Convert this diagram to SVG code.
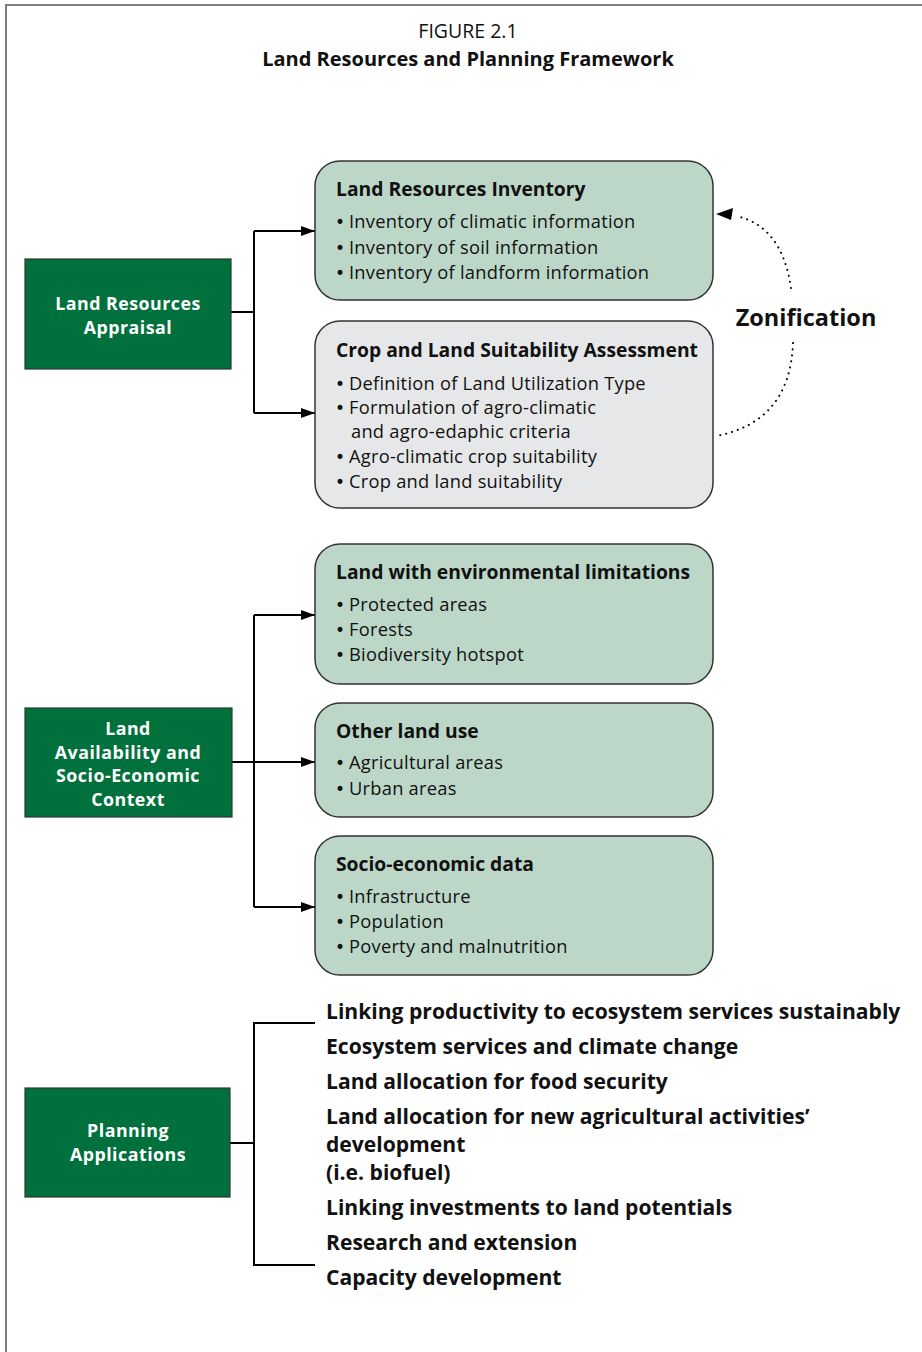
<svg xmlns="http://www.w3.org/2000/svg" width="922" height="1352" viewBox="0 0 922 1352">
<style>
.frame{fill:none;stroke:#7f7f7f;stroke-width:2}
.dk{fill:#00703c;stroke:#2b3a30;stroke-width:1.2}
.lg{fill:#bcd7c8;stroke:#333;stroke-width:1.5}
.gy{fill:#e6e7e8;stroke:#333;stroke-width:1.5}
.wt{font-family:"Open Sans","Noto Sans",sans-serif;font-weight:bold;font-size:17.8px;letter-spacing:0.5px;fill:#fff;text-anchor:middle}
.bt{font-family:"Open Sans","Noto Sans",sans-serif;font-weight:bold;font-size:19.3px;fill:#111}
.it{font-family:"Open Sans","Noto Sans",sans-serif;font-size:18.3px;letter-spacing:0.25px;fill:#111}
.bu{font-family:"DejaVu Sans",sans-serif;font-size:17px}
.pl{font-family:"Open Sans","Noto Sans",sans-serif;font-weight:bold;font-size:21.1px;fill:#111}
.ln{fill:none;stroke:#000;stroke-width:2}
.dot{fill:none;stroke:#000;stroke-width:2;stroke-dasharray:0.1 6;stroke-linecap:round}
</style>
<defs>
<marker id="ah" viewBox="0 0 14 10" refX="14" refY="5" markerWidth="14" markerHeight="10" markerUnits="userSpaceOnUse" orient="auto">
<path d="M0 0 L14 5 L0 10 Z" fill="#000"/>
</marker>
</defs>
<rect class="frame" x="6" y="5" width="930" height="1360"/>
<g id="title">
<text x="468" y="38" style="font-family:'Open Sans','Noto Sans',sans-serif;font-size:19.5px;fill:#111;text-anchor:middle">FIGURE 2.1</text>
<text x="468" y="66" style="font-family:'Open Sans','Noto Sans',sans-serif;font-weight:bold;font-size:20px;fill:#111;text-anchor:middle">Land Resources and Planning Framework</text>
</g>
<g id="connectors">
<path class="ln" d="M231 312 H254"/>
<path class="ln" d="M254 231 V413"/>
<path class="ln" d="M254 231 H315" marker-end="url(#ah)"/>
<path class="ln" d="M254 413 H315" marker-end="url(#ah)"/>
<path class="ln" d="M232 762 H315" marker-end="url(#ah)"/>
<path class="ln" d="M254 615 V907"/>
<path class="ln" d="M254 615 H315" marker-end="url(#ah)"/>
<path class="ln" d="M254 907 H315" marker-end="url(#ah)"/>
<path class="ln" d="M230 1143 H254"/>
<path class="ln" d="M254 1023 V1265"/>
<path class="ln" d="M253 1023 H315"/>
<path class="ln" d="M253 1265 H315"/>
<path class="dot" d="M791 288 Q782 226 736 216"/>
<path d="M716 214 L733 208 L731 220 Z" fill="#000"/>
<path class="dot" d="M793 343 Q790 422 716 436"/>
</g>
<g id="lra">
<rect class="dk" x="25" y="259" width="206" height="110"/>
<text class="wt"><tspan x="128" y="310">Land Resources</tspan><tspan x="128" y="334">Appraisal</tspan></text>
</g>
<g id="inventory">
<rect class="lg" x="315" y="161" width="398" height="139" rx="25"/>
<text class="bt" x="336" y="196">Land Resources Inventory</text>
<text class="it" x="335" y="228"><tspan class="bu">•</tspan><tspan x="349">Inventory of climatic information</tspan></text>
<text class="it" x="335" y="254"><tspan class="bu">•</tspan><tspan x="349">Inventory of soil information</tspan></text>
<text class="it" x="335" y="279"><tspan class="bu">•</tspan><tspan x="349">Inventory of landform information</tspan></text>
</g>
<g id="suitability">
<rect class="gy" x="315" y="321" width="398" height="187" rx="25"/>
<text class="bt" x="336" y="357">Crop and Land Suitability Assessment</text>
<text class="it" x="335" y="390"><tspan class="bu">•</tspan><tspan x="349">Definition of Land Utilization Type</tspan></text>
<text class="it" x="335" y="414"><tspan class="bu">•</tspan><tspan x="349">Formulation of agro-climatic</tspan><tspan x="351" y="438">and agro-edaphic criteria</tspan></text>
<text class="it" x="335" y="463"><tspan class="bu">•</tspan><tspan x="349">Agro-climatic crop suitability</tspan></text>
<text class="it" x="335" y="488"><tspan class="bu">•</tspan><tspan x="349">Crop and land suitability</tspan></text>
</g>
<g id="zonification">
<text x="806" y="326" style="font-family:'Open Sans','Noto Sans',sans-serif;font-weight:bold;font-size:23.5px;fill:#111;text-anchor:middle">Zonification</text>
</g>
<g id="lasec">
<rect class="dk" x="25" y="708" width="207" height="109"/>
<text class="wt"><tspan x="128" y="735">Land</tspan><tspan x="128" y="758.5">Availability and</tspan><tspan x="128" y="782">Socio-Economic</tspan><tspan x="128" y="805.5">Context</tspan></text>
</g>
<g id="envlim">
<rect class="lg" x="315" y="544" width="398" height="140" rx="25"/>
<text class="bt" x="336" y="579">Land with environmental limitations</text>
<text class="it" x="335" y="611"><tspan class="bu">•</tspan><tspan x="349">Protected areas</tspan></text>
<text class="it" x="335" y="636"><tspan class="bu">•</tspan><tspan x="349">Forests</tspan></text>
<text class="it" x="335" y="661"><tspan class="bu">•</tspan><tspan x="349">Biodiversity hotspot</tspan></text>
</g>
<g id="otherland">
<rect class="lg" x="315" y="703" width="398" height="114" rx="25"/>
<text class="bt" x="336" y="738">Other land use</text>
<text class="it" x="335" y="769"><tspan class="bu">•</tspan><tspan x="349">Agricultural areas</tspan></text>
<text class="it" x="335" y="795"><tspan class="bu">•</tspan><tspan x="349">Urban areas</tspan></text>
</g>
<g id="socioeco">
<rect class="lg" x="315" y="836" width="398" height="139" rx="25"/>
<text class="bt" x="336" y="871">Socio-economic data</text>
<text class="it" x="335" y="903"><tspan class="bu">•</tspan><tspan x="349">Infrastructure</tspan></text>
<text class="it" x="335" y="928"><tspan class="bu">•</tspan><tspan x="349">Population</tspan></text>
<text class="it" x="335" y="953"><tspan class="bu">•</tspan><tspan x="349">Poverty and malnutrition</tspan></text>
</g>
<g id="planning">
<rect class="dk" x="25" y="1088" width="205" height="109"/>
<text class="wt"><tspan x="128" y="1137">Planning</tspan><tspan x="128" y="1161">Applications</tspan></text>
</g>
<g id="applications">
<text class="pl" x="326" y="1019">Linking productivity to ecosystem services sustainably</text>
<text class="pl" x="326" y="1054">Ecosystem services and climate change</text>
<text class="pl" x="326" y="1089">Land allocation for food security</text>
<text class="pl"><tspan x="326" y="1124">Land allocation for new agricultural activities’</tspan><tspan x="326" y="1152">development</tspan><tspan x="326" y="1180">(i.e. biofuel)</tspan></text>
<text class="pl" x="326" y="1215">Linking investments to land potentials</text>
<text class="pl" x="326" y="1250">Research and extension</text>
<text class="pl" x="326" y="1285">Capacity development</text>
</g>
</svg>
